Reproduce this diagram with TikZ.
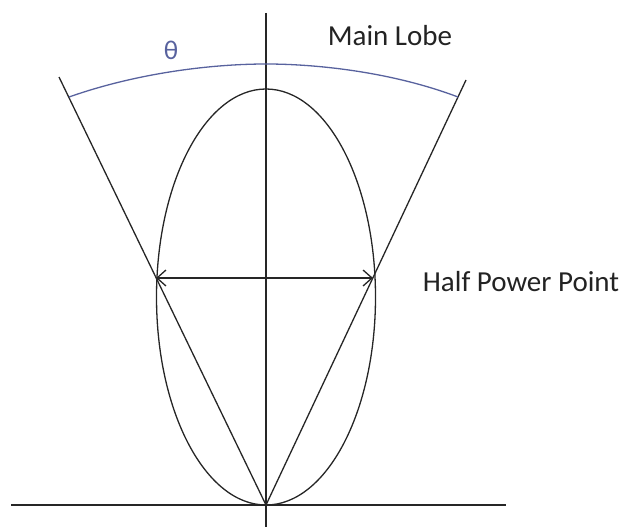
\documentclass[tikz,border=0pt]{standalone}
\usepackage{fontspec}
\setmainfont{Carlito}
\usetikzlibrary{arrows.meta}
\definecolor{arcblue}{RGB}{88,98,158}
\definecolor{txtgray}{RGB}{35,35,35}
\begin{document}
\begin{tikzpicture}[x=1pt,y=-1pt,
  axis/.style={line width=1.6pt,black!85},
  lobe/.style={line width=1.3pt,black!85},
  lbl/.style={font=\fontsize{29}{34}\selectfont,text=txtgray,inner sep=0pt},
  bluearc/.style={line width=1.3pt,arcblue}]
\useasboundingbox (0,0) rectangle (629,527);
\coordinate (O) at (266,505);
\coordinate (C) at (266,297);
\coordinate (A) at (156,278);
\coordinate (B) at (373,278);
\coordinate (L) at (59,77);
\coordinate (R) at (466,80);
\coordinate (AL) at (69,97);
\coordinate (AR) at (458,97);
\coordinate (T) at (266,64);
\coordinate (VT) at (266,13);
\coordinate (VB) at (266,527);
\coordinate (HL) at (11,505);
\coordinate (HR) at (506,505);
% axes
\draw[axis] (VT) -- (VB);
\draw[axis] (HL) -- (HR);
% lobe
\draw[lobe] (C) ellipse [x radius=109.5, y radius=208];
% lines from origin
\draw[lobe] (O) -- (L);
\draw[lobe] (O) -- (R);
% half power arrow
\draw[lobe,{Straight Barb[length=9pt,width=16pt]}-{Straight Barb[length=9pt,width=16pt]}] (A) -- (B);
% beam arc
\draw[bluearc] (AL) .. controls (140,72) and (215,64) .. (T) .. controls (317,64) and (392,72) .. (AR);
% labels
\node[lbl,text=arcblue] (theta) at (171,50) {\fontsize{27}{30}\selectfont θ};
\node[lbl] (main) at (390,36) {Main Lobe};
\node[lbl] (hpp) at (521,282) {Half Power Point};
\end{tikzpicture}
\end{document}
